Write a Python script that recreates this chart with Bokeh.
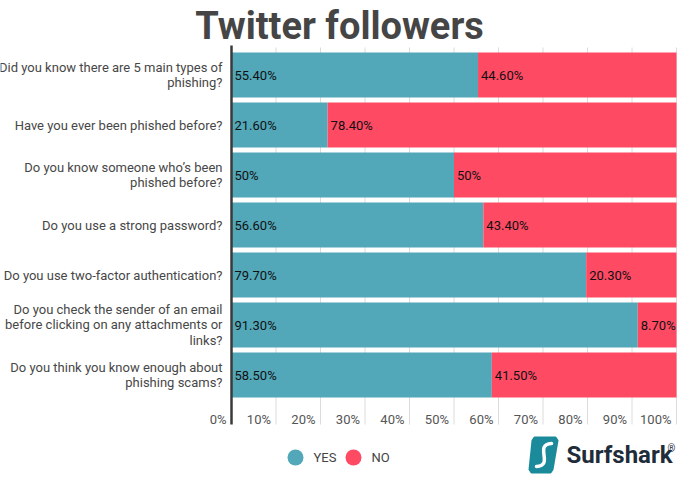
from bokeh.plotting import figure
from bokeh.models import Range1d, ColumnDataSource
from bokeh.embed import file_html
from bokeh.resources import INLINE
from bokeh.core.properties import value

# ---------------- data ----------------
chart_title = "Twitter followers"
questions = [
    "Did you know there are 5 main types of\nphishing?",
    "Have you ever been phished before?",
    "Do you know someone who\u2019s been\nphished before?",
    "Do you use a strong password?",
    "Do you use two-factor authentication?",
    "Do you check the sender of an email\nbefore clicking on any attachments or\nlinks?",
    "Do you think you know enough about\nphishing scams?",
]
yes = [55.4, 21.6, 50.0, 56.6, 79.7, 91.3, 58.5]
no = [44.6, 78.4, 50.0, 43.4, 20.3, 8.7, 41.5]
yes_labels = ["55.40%", "21.60%", "50%", "56.60%", "79.70%", "91.30%", "58.50%"]
no_labels = ["44.60%", "78.40%", "50%", "43.40%", "20.30%", "8.70%", "41.50%"]
ticks = [0, 10, 20, 30, 40, 50, 60, 70, 80, 90, 100]
tick_labels = ["0%", "10%", "20%", "30%", "40%", "50%", "60%", "70%", "80%", "90%", "100%"]
series = ["YES", "NO"]
colors = ["#52A8B9", "#FF4A64"]

# ---------------- layout (canvas px -> data) ----------------
W, H = 678, 476
X0, SX = 231.0, 4.45      # canvas x of 0 %, px per %
Y0, SY = 74.5, 50.0       # canvas y of first row centre, px per row


def px2x(cx):
    return (cx - X0) / SX


def px2y(cy):
    return (cy - Y0) / SY


p = figure(width=W, height=H, output_backend="svg", toolbar_location=None,
           x_range=Range1d(px2x(0), px2x(W)), y_range=Range1d(px2y(H), px2y(0)),
           x_axis_type=None, y_axis_type=None, min_border=0,
           outline_line_color=None, background_fill_color="white",
           border_fill_color="white")
p.grid.visible = False

FONT = value("Roboto")
rows = list(range(len(questions)))
src = ColumnDataSource(dict(row=rows, q=questions, yes=yes,
                            total=[a + b for a, b in zip(yes, no)],
                            yl=yes_labels, nl=no_labels))

# grid lines and zero axis
grid_top, grid_bot = px2y(47), px2y(424)
p.segment(x0=ticks[1:], x1=ticks[1:], y0=grid_top, y1=grid_bot,
          line_color="#dcdcdc", line_width=1)

# bars
p.hbar(y="row", left=0, right="yes", height=0.9, source=src,
       fill_color=colors[0], line_color=None)
p.hbar(y="row", left="yes", right="total", height=0.9, source=src,
       fill_color=colors[1], line_color=None)

p.segment(x0=[ticks[0]], x1=[ticks[0]], y0=grid_top - 0.04, y1=grid_bot,
          line_color="#3a3a3a", line_width=2.5)

# value labels
p.text(x=0, y="row", text="yl", source=src, x_offset=3,
       text_baseline="middle", text_align="left", text_font=FONT,
       text_font_size="13px", text_color="#111111")
p.text(x="yes", y="row", text="nl", source=src, x_offset=3,
       text_baseline="middle", text_align="left", text_font=FONT,
       text_font_size="13px", text_color="#111111")

# category labels
p.text(x=0, y="row", text="q", source=src, x_offset=-9,
       text_baseline="middle", text_align="right", text_font=FONT,
       text_font_size="13px", text_color="#474747", text_line_height=1.03)

# x tick labels
p.text(x=ticks, y=px2y(419), text=tick_labels, x_offset=-5,
       text_baseline="alphabetic", text_align="right", text_font=FONT,
       text_font_size="13px", text_color="#555555")

# title
p.text(x=[px2x(339)], y=[px2y(25)], text=[chart_title], text_align="center",
       text_baseline="alphabetic", text_font=FONT, text_font_size="38px",
       text_font_style="bold", text_color="#454545")

# legend
leg_src = ColumnDataSource(dict(
    x=[px2x(295), px2x(353)], tx=[px2x(313), px2x(371)],
    y=[px2y(457)] * 2, name=series, color=colors))
p.scatter(x="x", y="y", source=leg_src, size=16, fill_color="color",
          line_color=None)
p.text(x="tx", y="y", text="name", source=leg_src, text_baseline="middle",
       text_font=FONT, text_font_size="13px", text_color="#444444")

# Surfshark logo
icon_x = [534, 555, 557, 552, 550, 531, 529, 532]
icon_y = [437, 437, 440, 469, 472, 472, 469, 440]
p.patch(x=[px2x(v) for v in icon_x], y=[px2y(v) for v in icon_y],
        fill_color="#1B8A9A", line_color="#1B8A9A", line_width=2,
        line_join="round")
p.bezier(x0=[px2x(551)], y0=[px2y(443)], x1=[px2x(536)], y1=[px2y(466)],
         cx0=[px2x(533)], cy0=[px2y(444)], cx1=[px2x(554)], cy1=[px2y(465)],
         line_color="white", line_width=3.5, line_cap="round")
p.text(x=[px2x(566)], y=[px2y(454)], text=["Surfshark"],
       text_baseline="middle", text_font=FONT, text_font_size="24px",
       text_font_style="bold", text_color="#1F2D3A")
p.text(x=[px2x(667)], y=[px2y(448)], text=["\u00ae"],
       text_baseline="middle", text_font=FONT, text_font_size="10px",
       text_color="#1F2D3A")

open("out.html", "w").write(file_html(p, INLINE))
